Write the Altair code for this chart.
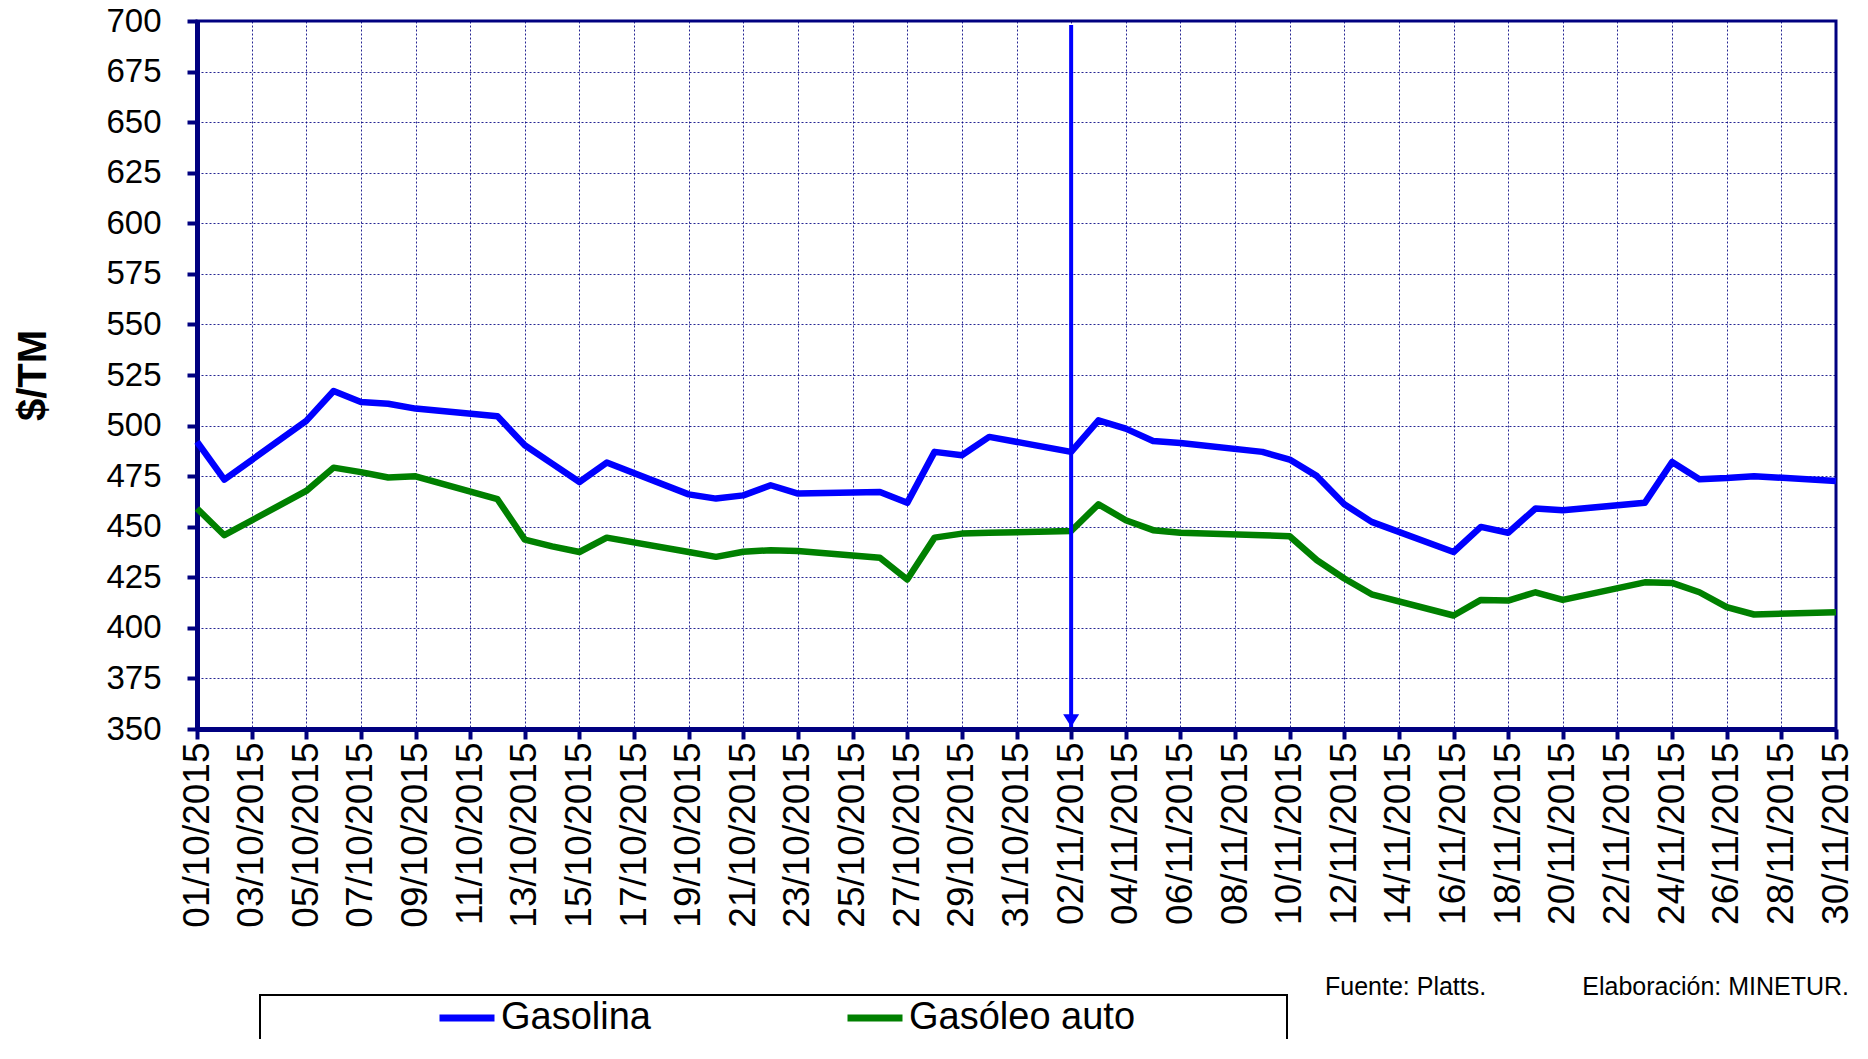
import altair as alt
import pandas as pd

# ---------------- data ----------------
fechas = [
    "2015-10-01", "2015-10-02", "2015-10-05", "2015-10-06", "2015-10-07", "2015-10-08",
    "2015-10-09", "2015-10-12", "2015-10-13", "2015-10-14", "2015-10-15", "2015-10-16",
    "2015-10-19", "2015-10-20", "2015-10-21", "2015-10-22", "2015-10-23", "2015-10-26",
    "2015-10-27", "2015-10-28", "2015-10-29", "2015-10-30", "2015-11-02", "2015-11-03",
    "2015-11-04", "2015-11-05", "2015-11-06", "2015-11-09", "2015-11-10", "2015-11-11",
    "2015-11-12", "2015-11-13", "2015-11-16", "2015-11-17", "2015-11-18", "2015-11-19",
    "2015-11-20", "2015-11-23", "2015-11-24", "2015-11-25", "2015-11-26", "2015-11-27",
    "2015-11-30",
]
gasolina = [
    492.0, 473.3, 502.3, 517.1, 511.7, 510.8, 508.4, 504.6, 490.3, 481.2, 472.1, 481.7,
    466.0, 463.9, 465.5, 470.5, 466.4, 467.2, 461.8, 487.0, 485.3, 494.4, 487.0, 502.6,
    498.5, 492.4, 491.4, 487.0, 483.2, 475.0, 461.1, 452.4, 437.5, 449.9, 447.0, 459.0,
    458.1, 461.8, 482.0, 473.5, 474.1, 475.0, 472.6,
]
gasoleo = [
    459.0, 445.8, 467.7, 479.2, 477.0, 474.3, 474.9, 463.6, 443.6, 440.3, 437.5, 444.6,
    437.5, 435.1, 437.6, 438.4, 438.0, 434.7, 423.9, 444.6, 446.6, 447.0, 447.9, 461.1,
    453.2, 448.3, 447.0, 445.8, 445.3, 433.4, 424.4, 416.6, 406.1, 413.8, 413.5, 417.6,
    413.8, 422.5, 422.2, 417.6, 410.2, 406.6, 407.7,
]
series = ["Gasolina", "Gasóleo auto"]
colores = ["#0000FF", "#008000"]

ticks_x = [
    "2015-10-01", "2015-10-03", "2015-10-05", "2015-10-07", "2015-10-09", "2015-10-11",
    "2015-10-13", "2015-10-15", "2015-10-17", "2015-10-19", "2015-10-21", "2015-10-23",
    "2015-10-25", "2015-10-27", "2015-10-29", "2015-10-31", "2015-11-02", "2015-11-04",
    "2015-11-06", "2015-11-08", "2015-11-10", "2015-11-12", "2015-11-14", "2015-11-16",
    "2015-11-18", "2015-11-20", "2015-11-22", "2015-11-24", "2015-11-26", "2015-11-28",
    "2015-11-30",
]
ticks_y = [350, 375, 400, 425, 450, 475, 500, 525, 550, 575, 600, 625, 650, 675, 700]

flecha_fecha = ["2015-11-02"]
flecha_desde = [698.0]
flecha_hasta = [351.0]

notas = ["Fuente: Platts.", "Elaboración: MINETUR."]


def ms(d):
    return int(pd.Timestamp(d, tz="UTC").value // 10**6)


df = pd.DataFrame({
    "fecha": fechas * 2,
    "valor": gasolina + gasoleo,
    "serie": [series[0]] * len(fechas) + [series[1]] * len(fechas),
})
df_flecha = pd.DataFrame({"fecha": flecha_fecha, "valor": flecha_desde, "valor2": flecha_hasta})
df_punta = pd.DataFrame({"fecha": flecha_fecha, "valor": flecha_hasta})

# ---------------- styling ----------------
W, H = 1639, 708
NAVY = "#000080"
FONT = "Liberation Sans, Arial, sans-serif"

x_enc = alt.X(
    "fecha:T",
    scale=alt.Scale(type="utc", domain=[ms(ticks_x[0]), ms(ticks_x[-1])], nice=False),
    axis=alt.Axis(
        values=[ms(t) for t in ticks_x], format="%d/%m/%Y", title=None,
        labelAngle=270, labelFontSize=37, labelFont=FONT, labelColor="black",
        labelPadding=3, labelOverlap=False, labelFlush=False, labelBound=False,
        labelLimit=0,
        tickSize=10, tickWidth=4, tickColor=NAVY,
        domainColor=NAVY, domainWidth=5,
        grid=True, gridColor=NAVY, gridDash=[2, 2], gridWidth=1, gridOpacity=0.85,
    ),
)
y_enc = alt.Y(
    "valor:Q",
    scale=alt.Scale(domain=[350, 700], nice=False, zero=False),
    axis=alt.Axis(
        values=ticks_y, title="$/TM", titleFontSize=40, titleFontWeight="bold",
        titleFont=FONT, titleColor="black", titleAngle=270, titleAlign="center",
        titleBaseline="middle", titleX=-164, titleY=354,
        labelFontSize=33, labelFont=FONT, labelColor="black", labelPadding=26,
        labelBound=False, labelFlush=False,
        tickSize=10, tickWidth=4, tickColor=NAVY,
        domainColor=NAVY, domainWidth=5,
        grid=True, gridColor=NAVY, gridDash=[2, 2], gridWidth=1, gridOpacity=0.85,
    ),
)

lineas = alt.Chart(df).mark_line(strokeWidth=6.5, strokeJoin="round").encode(
    x=x_enc,
    y=y_enc,
    color=alt.Color(
        "serie:N",
        scale=alt.Scale(domain=series, range=colores),
        sort=series,
        legend=alt.Legend(
            orient="none", legendX=239, legendY=966, direction="horizontal",
            title=None, padding=0, symbolType="stroke", symbolSize=3025,
            symbolStrokeWidth=7, labelFontSize=38, labelFont=FONT,
            labelColor="black", labelOffset=3, columnPadding=182, labelLimit=0,
        ),
    ),
)

flecha = alt.Chart(df_flecha).mark_rule(color="#0000FF", strokeWidth=4).encode(
    x="fecha:T", y="valor:Q", y2="valor2:Q"
)
punta = alt.Chart(df_punta).mark_point(
    shape="M-1,-1.6L1,-1.6L0,0Z", filled=True, size=256, color="#0000FF", opacity=1
).encode(x="fecha:T", y="valor:Q")

caja = alt.Chart(pd.DataFrame({"k": [0]})).mark_rect(
    fill="white", fillOpacity=0, stroke="black", strokeWidth=2
).encode(x=alt.value(63), x2=alt.value(1090), y=alt.value(974), y2=alt.value(1130))

nota1 = alt.Chart(pd.DataFrame({"t": [notas[0]]})).mark_text(
    align="left", baseline="middle", fontSize=25, font=FONT, color="black"
).encode(x=alt.value(1128), y=alt.value(966), text="t:N")
nota2 = alt.Chart(pd.DataFrame({"t": [notas[1]]})).mark_text(
    align="right", baseline="middle", fontSize=25, font=FONT, color="black"
).encode(x=alt.value(1652), y=alt.value(966), text="t:N")

chart = alt.layer(caja, lineas, flecha, punta, nota1, nota2).properties(
    width=W, height=H,
    autosize=alt.AutoSizeParams(type="none"),
    padding={"left": 189, "top": 13, "right": 20, "bottom": 310},
).configure_view(stroke=NAVY, strokeWidth=3)

chart.save("out.html", embed_options={"renderer": "svg", "actions": False})
